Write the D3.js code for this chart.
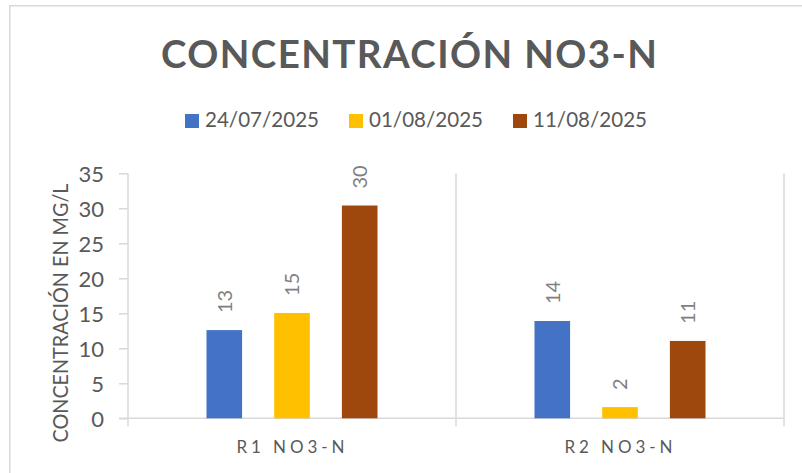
<!DOCTYPE html>
<html>
<head>
<meta charset="utf-8">
<script src="https://cdn.jsdelivr.net/npm/d3@7"></script>
<style>
  html, body { margin: 0; padding: 0; background: #fff; }
  svg { display: block; font-family: Lato, "Open Sans", sans-serif; }
</style>
</head>
<body>
<svg id="chart" width="802" height="473"></svg>
<script>
// ---- data ----
const title = "CONCENTRACIÓN NO3-N";
const yAxisTitle = "CONCENTRACIÓN EN MG/L";
const categories = ["R1 NO3-N", "R2 NO3-N"];
const seriesNames = ["24/07/2025", "01/08/2025", "11/08/2025"];
const values_24_07 = [12.6, 13.9];
const values_01_08 = [15.05, 1.6];
const values_11_08 = [30.4, 11.05];
const seriesColors = ["#4472C4", "#FFC000", "#9E480E"];
const yTicks = [0, 5, 10, 15, 20, 25, 30, 35];

const seriesValues = [values_24_07, values_01_08, values_11_08];
const rows = [];
categories.forEach((c, ci) => {
  seriesNames.forEach((s, si) => rows.push({cat: c, series: s, value: seriesValues[si][ci], color: seriesColors[si]}));
});

const svg = d3.select("#chart");
const gridColor = "#d9d9d9";
const textColor = "#595959";

// chart border (left & top visible)
svg.append("path").attr("d", "M9.75,473 V5.75 H802")
  .attr("fill", "none").attr("stroke", gridColor).attr("stroke-width", 1.5);

// scales
const x = d3.scaleBand().domain(categories).range([128, 784]).paddingInner(0).paddingOuter(0);
const xSub = d3.scaleBand().domain(seriesNames).range([-101.55, 101.55]).paddingInner(0.474).paddingOuter(0.237);
const y = d3.scaleLinear().domain([0, 35]).range([418.3, 173.3]);

// title
svg.append("text").attr("x", 161).attr("y", 67.7)
  .attr("font-size", 38.5).attr("font-weight", 700).attr("fill", textColor)
  .attr("textLength", 496).attr("lengthAdjust", "spacing")
  .text(title);

// legend
const legendX = [185, 349, 513];
const lg = svg.append("g");
seriesNames.forEach((s, i) => {
  lg.append("rect").attr("x", legendX[i]).attr("y", 114).attr("width", 14).attr("height", 14).attr("fill", seriesColors[i]);
  lg.append("text").attr("x", legendX[i] + 20).attr("y", 127.3)
    .attr("font-size", 22).attr("fill", textColor)
    .attr("textLength", 114).attr("lengthAdjust", "spacingAndGlyphs")
    .text(s);
});

// vertical separators (category boundaries) incl. y axis line
const bounds = [x.range()[0], x(categories[1]), x.range()[1]];
svg.append("g").selectAll("line").data(bounds).join("line")
  .attr("x1", d => d).attr("x2", d => d)
  .attr("y1", y(35)).attr("y2", y(0) + 8)
  .attr("stroke", gridColor).attr("stroke-width", 1.5);

// y axis
const yAxis = d3.axisLeft(y).tickValues(yTicks).tickSize(9).tickPadding(15).tickFormat(d3.format("d"));
const yg = svg.append("g").attr("transform", "translate(128,0)").call(yAxis);
yg.select(".domain").remove();
yg.selectAll(".tick line").attr("stroke", gridColor).attr("stroke-width", 1.5);
yg.selectAll(".tick text").attr("font-size", 22).attr("fill", textColor).attr("font-family", "Lato, sans-serif").attr("dy", "0.36em");

// x axis baseline
svg.append("line").attr("x1", 119).attr("x2", 784).attr("y1", y(0)).attr("y2", y(0))
  .attr("stroke", gridColor).attr("stroke-width", 1.5);

// category labels
svg.append("g").selectAll("text").data(categories).join("text")
  .attr("x", d => x(d) + x.bandwidth() / 2 - 1.5)
  .attr("y", 453.3)
  .attr("text-anchor", "middle")
  .attr("font-size", 17).attr("fill", textColor)
  .attr("textLength", 108).attr("lengthAdjust", "spacing")
  .text(d => d);

// y axis title
svg.append("text")
  .attr("transform", `translate(68,${313}) rotate(-90)`)
  .attr("text-anchor", "middle")
  .attr("font-size", 21.5).attr("fill", textColor)
  .attr("textLength", 259).attr("lengthAdjust", "spacingAndGlyphs")
  .text(yAxisTitle);

// bars
svg.append("g").selectAll("rect").data(rows).join("rect")
  .attr("x", d => x(d.cat) + x.bandwidth() / 2 + xSub(d.series))
  .attr("width", xSub.bandwidth())
  .attr("y", d => y(d.value))
  .attr("height", d => y(0) - y(d.value))
  .attr("fill", d => d.color);

// value labels
svg.append("g").selectAll("text").data(rows).join("text")
  .attr("transform", d => `translate(${x(d.cat) + x.bandwidth() / 2 + xSub(d.series) + xSub.bandwidth() / 2},${y(d.value) - 17}) rotate(-90)`)
  .attr("dy", "0.36em")
  .attr("font-size", 20).attr("fill", "#7f7f7f")
  .text(d => d3.format(".0f")(d.value));
</script>
</body>
</html>
